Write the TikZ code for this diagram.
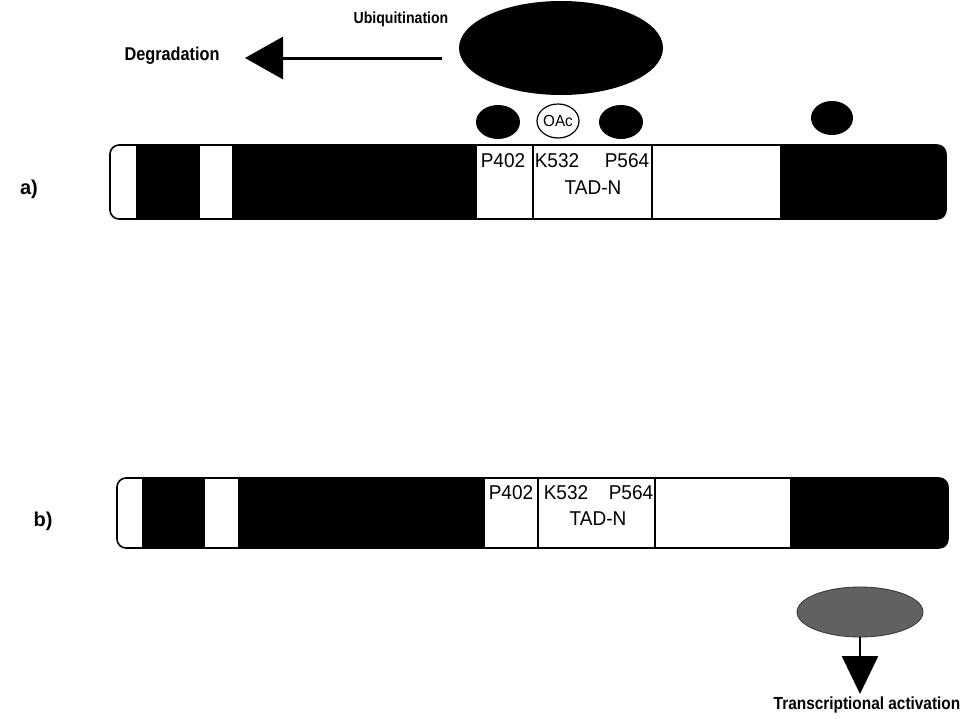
\documentclass[tikz,border=0pt]{standalone}
\usepackage{fontspec}
\setmainfont{Liberation Sans}
\newfontfamily\narrowbold[FakeStretch=0.88]{Liberation Sans Bold}
\newfontfamily\resfont[FakeStretch=0.95]{Liberation Sans}
\usetikzlibrary{arrows.meta,shapes.geometric}
\begin{document}
\begin{tikzpicture}[x=1pt,y=-1pt,
  lab/.style={font=\narrowbold\fontsize{17}{17}\selectfont, inner sep=0pt},
  res/.style={font=\resfont\fontsize{20}{20}\selectfont, inner sep=0pt},
  blob/.style={ellipse, fill=black, draw=none, inner sep=0pt},
  outline/.style={draw=black, line width=1.6pt, rounded corners=9pt},
  seg/.style={fill=black},
  divider/.style={draw=black, line width=1.3pt},
  bigarrow/.style={line width=3pt, -{Triangle[length=38pt,width=42pt]}}]
\fill[white] (0,0) rectangle (966,718);
\useasboundingbox (0,0) rectangle (966,718);

% ---------- a) ----------
\begin{scope}
  \clip[rounded corners=9pt] (110,145) rectangle (946,219);
  \fill[seg] (136,145) rectangle (200,219);
  \fill[seg] (232,145) rectangle (477,219);
  \fill[seg] (780,145) rectangle (946,219);
\end{scope}
\node[outline, minimum width=836pt, minimum height=74pt, inner sep=0pt] (bara) at (528,182) {};
\draw[divider] (533,145) -- (533,219);
\draw[divider] (652,145) -- (652,219);
\node[res] (pa402) at (503,161) {P402};
\node[res] (ka532) at (557,161) {K532};
\node[res] (pa564) at (627,161) {P564};
\node[res] (tada) at (593,188) {TAD-N};
\node[lab, font=\bfseries\fontsize{20}{20}\selectfont] (la) at (29,189) {a)};

\node[blob, minimum width=44pt, minimum height=34pt] (c1) at (498,122) {};
\node[ellipse, draw=black, line width=1.2pt, fill=white, inner sep=0pt, minimum width=42pt, minimum height=34pt, font=\resfont\fontsize{16}{16}\selectfont] (oac) at (558,121) {OAc};
\node[blob, minimum width=44pt, minimum height=34pt] (c2) at (621,122) {};
\node[blob, minimum width=42pt, minimum height=34pt] (c3) at (832,118) {};

\node[blob, minimum width=204pt, minimum height=94pt] (e3) at (561,48) {};
\coordinate (ubstart) at (442,58);
\node[lab, font=\narrowbold\fontsize{18.5}{18.5}\selectfont] (deg) at (172,56) {Degradation};
\node[lab, font=\narrowbold\fontsize{16}{16}\selectfont] (ubi) at (401,19) {Ubiquitination};
\coordinate (degtip) at (245,58);
\draw[bigarrow] (ubstart) -- (degtip);

% ---------- b) ----------
\begin{scope}
  \clip[rounded corners=9pt] (117,478) rectangle (948,548);
  \fill[seg] (142,478) rectangle (205,548);
  \fill[seg] (238,478) rectangle (485,548);
  \fill[seg] (790,478) rectangle (948,548);
\end{scope}
\node[outline, minimum width=831pt, minimum height=70pt, inner sep=0pt] (barb) at (532.5,513) {};
\draw[divider] (538,478) -- (538,548);
\draw[divider] (655,478) -- (655,548);
\node[res] (pb402) at (511,493) {P402};
\node[res] (kb532) at (566,493) {K532};
\node[res] (pb564) at (631,493) {P564};
\node[res] (tadb) at (598,519) {TAD-N};
\node[lab, font=\bfseries\fontsize{20}{20}\selectfont] (lb) at (43,521) {b)};

\node[ellipse, fill=black!62, draw=black!80, line width=0.8pt, inner sep=0pt, minimum width=126pt, minimum height=50pt] (cbp) at (860,612) {};
\node[lab, font=\narrowbold\fontsize{17.5}{17.5}\selectfont] (trans) at (867,705) {Transcriptional activation};
\coordinate (tatip) at (860,694);
\draw[line width=2.5pt, -{Triangle[length=38pt,width=36pt]}] (cbp.south) -- (tatip);
\end{tikzpicture}
\end{document}
